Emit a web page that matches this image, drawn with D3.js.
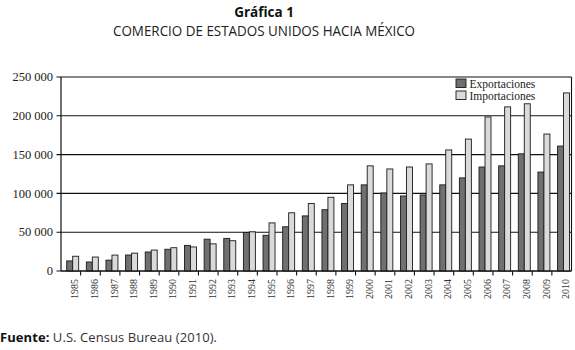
<html>
<head>
<meta charset="utf-8">
<script src="https://d3js.org/d3.v7.min.js"></script>
<style>
    body { margin: 0; background: #fff; }
    svg { display: block; }
    .ytick text { font-family: "Liberation Serif", serif; font-size: 12.5px; fill: #222; }
    .xtick text { font-family: "Liberation Serif", serif; font-size: 10px; fill: #333; }
    .legend text { font-family: "Liberation Serif", serif; font-size: 11.5px; fill: #222; }
    .title { font-family: "Open Sans", "Noto Sans", sans-serif; fill: #111; }
</style>
</head>
<body>

<svg id='chart' width=575 height=350></svg>

<script>

    let years = d3.range(1985, 2011).map(String);

    // millones de dólares
    let exportaciones = [13000, 11600, 14000, 20600, 24500, 28000, 33000, 41000, 42000, 49500,
                         46000, 57000, 71000, 79000, 87000, 111000, 100500, 96700, 98000, 111000,
                         120000, 134000, 135500, 151000, 127500, 161000];
    let importaciones = [19000, 18000, 20500, 23000, 27000, 30000, 31000, 35000, 39000, 50500,
                         62000, 75000, 87000, 95000, 111000, 135500, 131500, 134000, 138000, 156000,
                         170000, 198500, 211500, 215500, 176500, 229500];

    let yTicks = [0, 50000, 100000, 150000, 200000, 250000];
    let series = ['Exportaciones', 'Importaciones'];
    let fills = ['#707070', '#dadada'];

    let svg = d3.select('#chart');
    let margin = {top: 77, right: 3.5, bottom: 79, left: 61},
        width = +svg.attr('width') - margin.left - margin.right,
        height = +svg.attr('height') - margin.top - margin.bottom;

    // titles
    svg.append('text').attr('class', 'title')
        .attr('x', 264).attr('y', 16.5)
        .attr('text-anchor', 'middle')
        .style('font-weight', 'bold').style('font-size', '13.5px')
        .text('Gráfica 1');
    svg.append('text').attr('class', 'title')
        .attr('x', 264).attr('y', 36)
        .attr('text-anchor', 'middle')
        .style('font-size', '15px')
        .style('fill', '#222')
        .attr('textLength', 302)
        .attr('lengthAdjust', 'spacingAndGlyphs')
        .text('COMERCIO DE ESTADOS UNIDOS HACIA MÉXICO');

    let g = svg.append('g')
        .attr('transform', 'translate(' + margin.left + ',' + margin.top + ')');

    let x = d3.scaleBand().domain(years).range([0, width]);
    let bw = x.bandwidth();
    let x1 = d3.scaleBand().domain(series).range([bw * 0.29, bw * 0.9]);

    let y = d3.scaleLinear().domain([0, 250000]).range([height, 0]);

    // grid + y ticks
    let yt = g.selectAll('.ytick')
        .data(yTicks)
      .enter()
        .append('g')
        .attr('class', 'ytick')
        .attr('transform', d => 'translate(0,' + y(d) + ')');
    yt.append('line')
        .attr('x1', -4.5).attr('x2', width)
        .attr('stroke', '#111').attr('stroke-width', 1.1);
    yt.append('text')
        .attr('x', -8).attr('dy', '0.33em')
        .attr('text-anchor', 'end')
        .text(d => d3.format(',')(d).replace(/,/g, ' '));

    // axes lines
    g.append('line').attr('x1', 0).attr('x2', 0).attr('y1', 0).attr('y2', height)
        .attr('stroke', '#111').attr('stroke-width', 1.2);
    g.append('line').attr('x1', width).attr('x2', width).attr('y1', 0).attr('y2', height)
        .attr('stroke', '#111').attr('stroke-width', 1.1);

    // bars
    let grp = g.selectAll('.year')
        .data(years)
      .enter()
        .append('g')
        .attr('class', 'year')
        .attr('transform', d => 'translate(' + x(d) + ',0)');

    grp.selectAll('rect')
        .data((d, i) => [
            {s: 'Exportaciones', v: exportaciones[i]},
            {s: 'Importaciones', v: importaciones[i]}
        ])
      .enter()
        .append('rect')
        .attr('x', d => x1(d.s))
        .attr('width', x1.bandwidth())
        .attr('y', d => y(d.v))
        .attr('height', d => height - y(d.v))
        .attr('fill', d => fills[series.indexOf(d.s)])
        .attr('stroke', '#1a1a1a')
        .attr('stroke-width', 0.9);

    // x ticks between categories
    g.selectAll('.xsep')
        .data(years.slice(1))
      .enter()
        .append('line')
        .attr('x1', d => x(d)).attr('x2', d => x(d))
        .attr('y1', height).attr('y2', height + 4.5)
        .attr('stroke', '#111').attr('stroke-width', 1.1);
    g.append('line').attr('x1', 0).attr('x2', width)
        .attr('y1', height).attr('y2', height)
        .attr('stroke', '#111').attr('stroke-width', 1.2);

    let xt = g.selectAll('.xtick')
        .data(years)
      .enter()
        .append('g')
        .attr('class', 'xtick')
        .attr('transform', d => 'translate(' + (x(d) + bw / 2 + 4) + ',' + (height + 8) + ')');
    xt.append('text')
        .attr('transform', 'rotate(-90)')
        .attr('text-anchor', 'end')
        .attr('dy', '0.35em')
        .text(d => d);

    // legend
    let lg = svg.append('g').attr('class', 'legend')
        .attr('transform', 'translate(456,79)');
    let li = lg.selectAll('g')
        .data(series)
      .enter()
        .append('g')
        .attr('transform', (d, i) => 'translate(0,' + i * 12 + ')');
    li.append('rect')
        .attr('width', 10).attr('height', 8.5)
        .attr('fill', (d, i) => fills[i])
        .attr('stroke', '#1a1a1a').attr('stroke-width', 0.9);
    li.append('text')
        .attr('x', 13.5).attr('y', 8.5)
        .text(d => d);

    // fuente
    let ft = svg.append('text').attr('class', 'title')
        .attr('x', 0).attr('y', 342)
        .style('font-size', '13px')
        .attr('textLength', 217);
    ft.append('tspan').style('font-weight', 'bold').text('Fuente: ');
    ft.append('tspan').style('fill', '#333').text('U.S. Census Bureau (2010).');

</script>

</body>
</html>
